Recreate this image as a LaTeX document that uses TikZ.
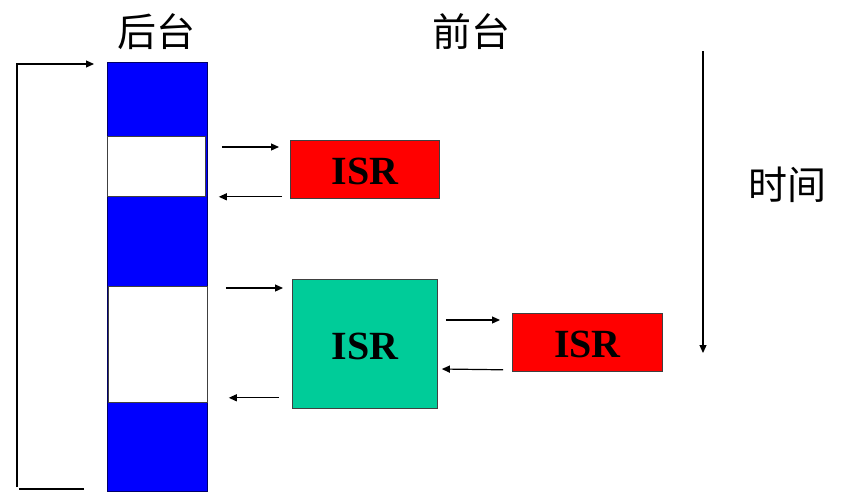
\documentclass[tikz,border=0pt]{standalone}
\usepackage{fontspec}
\setmainfont{Liberation Serif}
\newfontfamily\cjk{Noto Sans CJK SC}
\usetikzlibrary{arrows.meta}
\definecolor{barblue}{RGB}{0,0,255}
\definecolor{isrred}{RGB}{255,0,0}
\definecolor{isrgreen}{RGB}{0,204,153}
\begin{document}
\begin{tikzpicture}[x=1pt,y=-1pt,
  arr/.style={line width=1.2pt,-{Triangle[length=8pt,width=7pt]}},
  plain/.style={line width=1.2pt},
  box/.style={draw=black!75,line width=0.8pt,inner sep=0pt,anchor=north west},
  isrtext/.style={font=\fontsize{40}{42}\selectfont\bfseries},
  cjklabel/.style={font=\cjk\fontsize{39}{42}\selectfont,inner sep=0pt}]
\useasboundingbox (0,0) rectangle (842,498);
% background bar and its idle slices
\node[box,draw=black!60!blue,fill=barblue,minimum width=100pt,minimum height=429pt] (bar) at (107,62) {};
\node[box,fill=white,minimum width=98pt,minimum height=60pt] (w1) at (107,136) {};
\node[box,fill=white,minimum width=99pt,minimum height=116pt] (w2) at (108,286) {};
% ISR boxes
\node[box,fill=isrred,minimum width=149pt,minimum height=58pt] (isr1) at (290,140) {};
\node[isrtext] at ([yshift=-2pt]isr1.center) {ISR};
\node[box,fill=isrgreen,minimum width=145pt,minimum height=129pt] (g) at (292,279) {};
\node[isrtext] at ([yshift=-2.5pt]g.center) {ISR};
\node[box,fill=isrred,minimum width=150pt,minimum height=58pt] (isr2) at (512,313) {};
\node[isrtext] at ([yshift=-2.5pt]isr2.center) {ISR};
% labels
\node[cjklabel] (lb) at (156,32) {后台};
\node[cjklabel] (lf) at (471,32) {前台};
\node[cjklabel] (lt) at (787,185) {时间};
% arrows between background and first ISR
\draw[arr] ([shift={(16,11)}]w1.north east) -- ([shift={(-11,7)}]isr1.north west);
\draw[arr] ([shift={(-8,-2)}]isr1.south west) -- ([shift={(13,0)}]w1.south east);
% arrows between background and green ISR
\draw[arr] ([shift={(18,2)}]w2.north east) -- ([shift={(-9,9)}]g.north west);
\draw[arr] ([shift={(-13,-11)}]g.south west) -- ([shift={(21,-5)}]w2.south east);
% nested ISR
\draw[arr] ([shift={(8,41)}]g.north east) -- ([shift={(-12,7)}]isr2.north west);
\draw[arr] ([shift={(-9,-2)}]isr2.south west) -- ([shift={(4,90)}]g.north east);
% loop back
\coordinate (lb1) at (84,489);
\coordinate (lb2) at (19,489);
\coordinate (lb4) at (17,487);
\coordinate (lb3) at (17,64);
\draw[plain] (lb1) -- (lb2);
\draw[arr] (lb4) -- (lb3) -- ([shift={(-13,2)}]bar.north west);
% time arrow
\coordinate (t1) at (703,51);
\coordinate (t2) at (703,353);
\draw[arr] (t1) -- (t2);
\end{tikzpicture}
\end{document}
